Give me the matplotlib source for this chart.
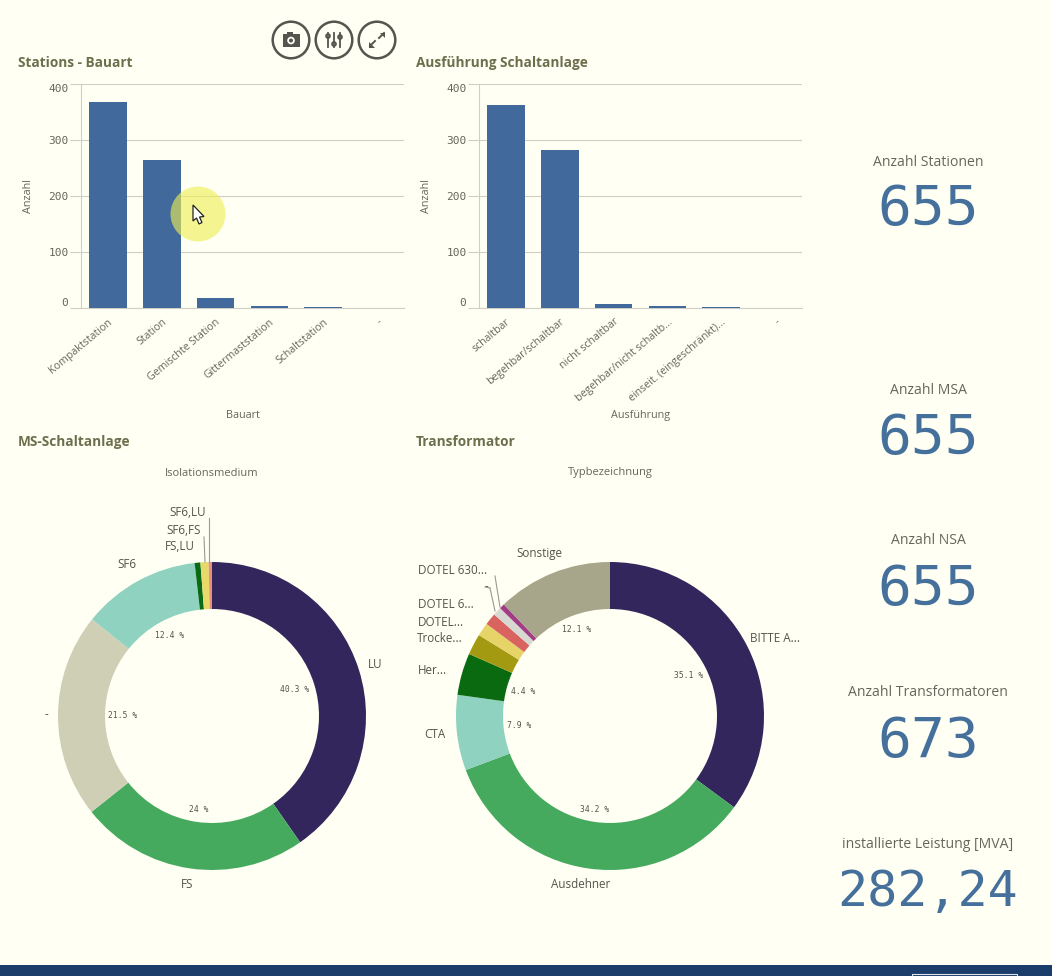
import matplotlib
matplotlib.use("Agg")
import matplotlib.pyplot as plt
from matplotlib.patches import Circle, Polygon, Rectangle

W, H = 1052, 976
BG = "#FFFFF3"
TXT = "#66665c"
TITLE = "#6c6e4c"
BAR = "#41699b"
GRID = "#cfcfc6"
UI = "Open Sans"
MONO = "DejaVu Sans Mono"

bauart_cats = ["Kompaktstation", "Station", "Gemischte Station", "Gittermaststation", "Schaltstation", "-"]
bauart_vals = [368, 265, 17, 3, 2, 0]
ausf_cats = ["schaltbar", "begehbar/schaltbar", "nicht schaltbar", "begehbar/nicht schaltb...",
             "einseit. (eingeschränkt)...", "-"]
ausf_vals = [362, 282, 7, 3, 1, 0]
y_ticks = [0, 100, 200, 300, 400]

ms_vals = [40.3, 24.0, 21.5, 12.4, 0.6, 0.85, 0.35]
ms_colors = ["#33265c", "#45aa5e", "#cfcfb6", "#8fd2c0", "#0b6b14", "#e8d96a", "#e8907a"]
trafo_vals = [35.1, 34.2, 7.9, 4.4, 2.2, 1.4, 1.25, 0.9, 0.55, 12.1]
trafo_colors = ["#33265c", "#45aa5e", "#8fd2c0", "#0a6a10", "#a39a12", "#e6d468", "#d9635f",
                "#d8d8d2", "#a23c86", "#a8a68a"]

kpi_names = ["Anzahl Stationen", "Anzahl MSA", "Anzahl NSA", "Anzahl Transformatoren",
             "installierte Leistung [MVA]"]
kpi_values = ["655", "655", "655", "673", "282,24"]

fig = plt.figure(figsize=(W / 100, H / 100), dpi=100, facecolor=BG)


def box(x0, y0, x1, y1):
    return [x0 / W, 1 - y1 / H, (x1 - x0) / W, (y1 - y0) / H]


def bar_chart(rect, cats, vals, xlabel):
    ax = fig.add_axes(box(*rect), facecolor="none")
    ax.bar(range(len(cats)), vals, width=0.7, color=BAR, zorder=3)
    ax.set_xlim(-0.5, len(cats) - 0.5)
    ax.set_ylim(0, 400)
    ax.set_yticks(y_ticks)
    ax.set_yticklabels([str(v) for v in y_ticks], family=MONO, fontsize=8, color=TXT)
    labels = ax.get_yticklabels()
    labels[0].set_va("bottom")
    labels[-1].set_va("top")
    ax.set_xticks(range(len(cats)))
    ax.set_xticklabels(cats, rotation=40, ha="right", va="top", rotation_mode="anchor",
                       family=UI, fontsize=7.7, color=TXT)
    ax.tick_params(axis="x", length=0, pad=6)
    ax.tick_params(axis="y", length=8, width=0.8, color=GRID, pad=1)
    ax.grid(axis="y", color=GRID, lw=0.8, zorder=0)
    for s in ("top", "right"):
        ax.spines[s].set_visible(False)
    for s in ("left", "bottom"):
        ax.spines[s].set_color(GRID)
        ax.spines[s].set_linewidth(0.8)
    ax.set_ylabel("Anzahl", family=UI, fontsize=7.8, color=TXT)
    ax.yaxis.set_label_coords(-0.145, 0.5)
    ax.set_xlabel(xlabel, family=UI, fontsize=7.8, color=TXT)
    ax.xaxis.set_label_coords(0.5, -0.455)
    return ax


def donut(cx, cy, vals, colors):
    R, r = 154, 107
    ax = fig.add_axes(box(cx - R, cy - R, cx + R, cy + R), facecolor="none")
    ax.pie(vals, colors=colors, startangle=90, counterclock=False, radius=1,
           wedgeprops=dict(width=(R - r) / R, linewidth=0))
    ax.set_xlim(-1, 1)
    ax.set_ylim(-1, 1)
    ax.set_aspect("equal")
    ax.axis("off")
    return ax


bar_chart((81, 84, 404, 308), bauart_cats, bauart_vals, "Bauart")
bar_chart((479, 84, 802, 308), ausf_cats, ausf_vals, "Ausführung")
donut(212, 716, ms_vals, ms_colors)
donut(610, 716, trafo_vals, trafo_colors)

# overlay in pixel coordinates for titles, annotations and screen furniture
ov = fig.add_axes([0, 0, 1, 1], facecolor="none", zorder=10)
ov.set_xlim(0, W)
ov.set_ylim(H, 0)
ov.axis("off")


def t(x, y, s, size=7.5, color=TXT, family=UI, ha="center", weight="normal"):
    ov.text(x, y, s, fontsize=size, color=color, family=family, ha=ha, va="center", fontweight=weight)


for x, y, s in [(18, 63, "Stations - Bauart"), (416, 63, "Ausführung Schaltanlage"),
                (18, 442, "MS-Schaltanlage"), (416, 442, "Transformator")]:
    t(x, y, s, size=9.8, color=TITLE, ha="left", weight="bold")

t(212, 473, "Isolationsmedium", size=8)
t(610, 473, "Typbezeichnung", size=8)

for x, y, s in [(375, 664, "LU"), (187, 885, "FS"), (46, 715, "-"), (127, 564, "SF6"),
                (180, 546, "FS,LU"), (184, 530, "SF6,FS"), (188, 512, "SF6,LU"),
                (775, 638, "BITTE A..."), (581, 885, "Ausdehner"), (435, 735, "CTA"),
                (432, 670, "Her..."), (440, 639, "Trocke..."), (441, 622, "DOTEL..."),
                (446, 604, "DOTEL 6..."), (486, 587, "-"), (453, 570, "DOTEL 630..."),
                (539, 553, "Sonstige")]:
    t(x, y, s, size=8.4, color="#55554c")

for x, y, s in [(295, 690, "40.3 %"), (199, 809, "24 %"), (123, 716, "21.5 %"), (170, 636, "12.4 %"),
                (689, 675, "35.1 %"), (595, 809, "34.2 %"), (519, 725, "7.9 %"),
                (523, 691, "4.4 %"), (577, 629, "12.1 %")]:
    t(x, y, s, size=5.8, color="#55554c", family=MONO)

for xs, ys in [((209, 209), (518, 562)), ((204, 205), (537, 562)), ((495, 500), (576, 607)),
               ((490, 495), (588, 611)), ((485, 490), (587, 588))]:
    ov.plot(xs, ys, color="#9a9a92", lw=0.8)

for y_name, y_val, name, val in zip([162, 390, 541, 693, 844], [210, 439, 590, 742, 892],
                                    kpi_names, kpi_values):
    t(928, y_name, name, size=10.1)
    t(928, y_val, val, size=40.5 if len(val) == 3 else 36, color="#44709b", family=MONO)

# toolbar buttons
ICON = "#55554f"
for cx in (291, 334, 377):
    ov.add_patch(Circle((cx, 40), 18.3, fill=False, ec=ICON, lw=1.8))
ov.add_patch(Rectangle((283, 34), 17, 13, fc=ICON, ec="none"))
ov.add_patch(Rectangle((287, 32), 6, 3, fc=ICON, ec="none"))
ov.add_patch(Circle((291, 40.5), 3.8, fc=BG, ec="none"))
ov.add_patch(Circle((291, 40.5), 2, fc=ICON, ec="none"))
for x, knob in [(328, 36), (334, 44), (340, 37)]:
    ov.plot([x, x], [33, 47], color=ICON, lw=1.3)
    ov.add_patch(Circle((x, knob), 2, fc=BG, ec=ICON, lw=1.2))
ov.plot([370, 375], [46, 41], color=ICON, lw=1.4)
ov.plot([379, 384], [38, 33], color=ICON, lw=1.4)
ov.add_patch(Polygon([(369, 42), (369, 47.5), (374.5, 47.5)], fc=ICON, ec="none"))
ov.add_patch(Polygon([(385, 38), (385, 32.5), (379.5, 32.5)], fc=ICON, ec="none"))

# pointer highlight and cursor
ov.add_patch(Circle((198, 214), 27.5, fc="#eeee55", ec="none", alpha=0.62))
ov.add_patch(Polygon([(193, 205), (193, 221), (196.5, 218), (199, 224), (202, 222.5),
                      (199.5, 217), (204, 216.5)], fc="white", ec="#222222", lw=0.9))

# bottom bar
ov.add_patch(Rectangle((0, 965), W, 11, fc="#1a3d6c", ec="none"))
ov.add_patch(Rectangle((912, 973.5), 105, 4, fc="none", ec="#dfe4ea", lw=0.8))

fig.savefig("out.png", dpi=100, facecolor=BG)
